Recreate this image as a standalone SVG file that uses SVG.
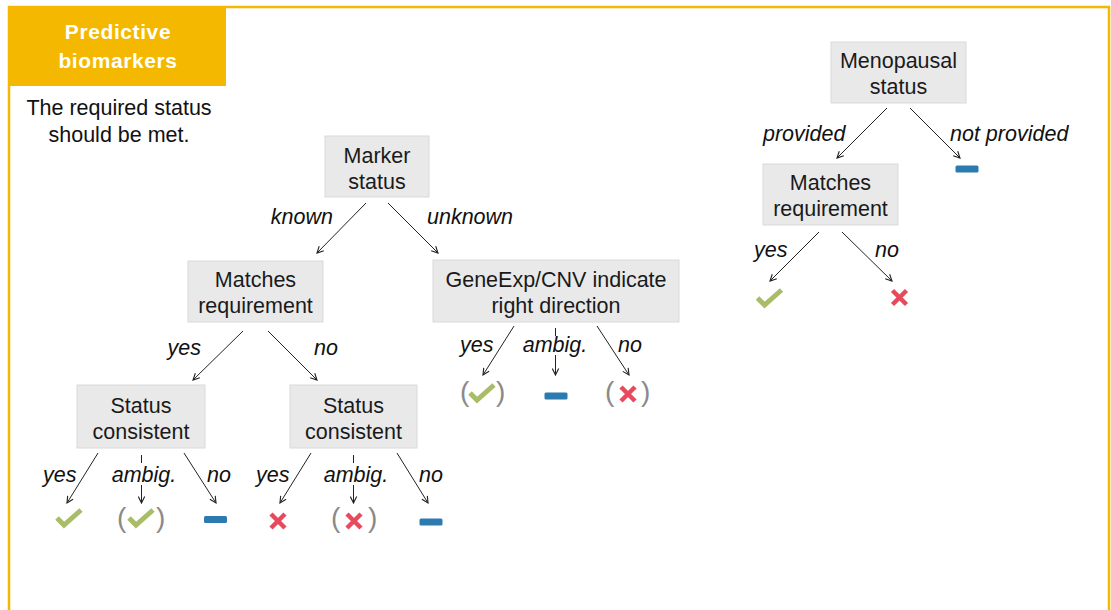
<svg xmlns="http://www.w3.org/2000/svg" width="1111" height="610" viewBox="0 0 1111 610">
  <style>
    .box rect { fill: #e9e9e9; stroke: #d9d9d9; stroke-width: 1; }
    .box text { font-family: "Liberation Sans", Arial, sans-serif; font-size: 21.5px; fill: #1a1a1a; text-anchor: middle; }
    .lbl { font-family: "Liberation Sans", Arial, sans-serif; font-size: 21.5px; font-style: italic; fill: #111; }
    .edge { stroke: #222; stroke-width: 1; fill: none; }
    .arrow { marker-end: url(#head); }
    .check { stroke: #a9bc68; stroke-width: 5; fill: none; stroke-linejoin: miter; }
    .cross { stroke: #e64a5c; stroke-width: 4.5; fill: none; }
    .minus { fill: #2b7ab0; }
    .paren { font-family: "Liberation Sans", Arial, sans-serif; font-size: 28px; fill: #8a8a8a; }
  </style>
  <defs>
    <marker id="head" viewBox="0 0 10 10" refX="9" refY="5" markerWidth="8" markerHeight="8" markerUnits="userSpaceOnUse" orient="auto">
      <path d="M1,1 L9,5 L1,9" fill="none" stroke="#222" stroke-width="1.4"/>
    </marker>
    <g id="ok"><polyline class="check" points="-12,0 -5,7 12,-8"/></g>
    <g id="bad"><path class="cross" d="M-7,-7 L7,7 M7,-7 L-7,7"/></g>
    <g id="none"><rect class="minus" x="-11.5" y="-3.5" width="23" height="7" rx="1.5"/></g>
  </defs>

  <!-- panel frame -->
  <rect x="9" y="7" width="1100" height="700" fill="#fff" stroke="#f5b800" stroke-width="2.5"/>

  <!-- panel heading -->
  <g id="heading">
    <rect x="8" y="6" width="218" height="80" fill="#f5b800"/>
    <text x="118" y="39" font-family="Liberation Sans, Arial, sans-serif" font-size="21" font-weight="bold" letter-spacing="0.6" fill="#fff" text-anchor="middle">Predictive</text>
    <text x="118" y="68" font-family="Liberation Sans, Arial, sans-serif" font-size="21" font-weight="bold" letter-spacing="0.6" fill="#fff" text-anchor="middle">biomarkers</text>
  </g>
  <g id="note">
    <text x="119" y="115" font-family="Liberation Sans, Arial, sans-serif" font-size="21.5" fill="#111" text-anchor="middle">The required status</text>
    <text x="119" y="142" font-family="Liberation Sans, Arial, sans-serif" font-size="21.5" fill="#111" text-anchor="middle">should be met.</text>
  </g>

  <!-- decision nodes -->
  <g id="marker-status" class="box">
    <rect x="325" y="136" width="104" height="61"/>
    <text x="377" y="163">Marker</text>
    <text x="377" y="189">status</text>
  </g>
  <g id="matches-left" class="box">
    <rect x="188" y="261" width="135" height="61"/>
    <text x="255.5" y="287">Matches</text>
    <text x="255.5" y="313">requirement</text>
  </g>
  <g id="geneexp" class="box">
    <rect x="433" y="260" width="246" height="62"/>
    <text x="556" y="287">GeneExp/CNV indicate</text>
    <text x="556" y="313">right direction</text>
  </g>
  <g id="status-left" class="box">
    <rect x="77" y="385" width="128" height="63"/>
    <text x="141" y="413">Status</text>
    <text x="141" y="439">consistent</text>
  </g>
  <g id="status-right" class="box">
    <rect x="290" y="385" width="127" height="63"/>
    <text x="353.5" y="413">Status</text>
    <text x="353.5" y="439">consistent</text>
  </g>
  <g id="menopausal" class="box">
    <rect x="831" y="42" width="135" height="61"/>
    <text x="898.5" y="68">Menopausal</text>
    <text x="898.5" y="94">status</text>
  </g>
  <g id="matches-right" class="box">
    <rect x="763" y="164" width="135" height="61"/>
    <text x="830.5" y="190">Matches</text>
    <text x="830.5" y="216">requirement</text>
  </g>

  <!-- connectors -->
  <g id="connectors">
    <line class="edge arrow" x1="366" y1="203" x2="317" y2="253"/>
    <line class="edge arrow" x1="388" y1="203" x2="438" y2="253"/>
    <line class="edge arrow" x1="243" y1="331" x2="193" y2="380"/>
    <line class="edge arrow" x1="268" y1="331" x2="317" y2="380"/>

    <line class="edge arrow" x1="98" y1="453" x2="67" y2="503"/>
    <line class="edge" x1="141.5" y1="455" x2="141.5" y2="463"/>
    <line class="edge arrow" x1="141.5" y1="485" x2="141.5" y2="503"/>
    <line class="edge arrow" x1="184" y1="453" x2="216" y2="503"/>

    <line class="edge arrow" x1="311" y1="453" x2="280" y2="503"/>
    <line class="edge" x1="353.5" y1="455" x2="353.5" y2="463"/>
    <line class="edge arrow" x1="353.5" y1="485" x2="353.5" y2="503"/>
    <line class="edge arrow" x1="397" y1="453" x2="428" y2="503"/>

    <line class="edge arrow" x1="514" y1="326" x2="483" y2="375"/>
    <line class="edge" x1="555.5" y1="328" x2="555.5" y2="336"/>
    <line class="edge arrow" x1="555.5" y1="355" x2="555.5" y2="375"/>
    <line class="edge arrow" x1="597" y1="326" x2="629" y2="375"/>

    <line class="edge arrow" x1="887" y1="108" x2="837" y2="158"/>
    <line class="edge arrow" x1="910" y1="108" x2="960" y2="158"/>
    <line class="edge arrow" x1="819" y1="232" x2="770" y2="281"/>
    <line class="edge arrow" x1="842" y1="232" x2="892" y2="281"/>
  </g>

  <!-- connector labels -->
  <g id="labels">
    <text class="lbl" x="333" y="224" text-anchor="end">known</text>
    <text class="lbl" x="427" y="224">unknown</text>
    <text class="lbl" x="201" y="355" text-anchor="end">yes</text>
    <text class="lbl" x="314" y="355">no</text>

    <text class="lbl" x="43" y="482">yes</text>
    <text class="lbl" x="144" y="482" text-anchor="middle">ambig.</text>
    <text class="lbl" x="207" y="482">no</text>

    <text class="lbl" x="256" y="482">yes</text>
    <text class="lbl" x="356" y="482" text-anchor="middle">ambig.</text>
    <text class="lbl" x="419" y="482">no</text>

    <text class="lbl" x="460" y="352">yes</text>
    <text class="lbl" x="555" y="352" text-anchor="middle">ambig.</text>
    <text class="lbl" x="618" y="352">no</text>

    <text class="lbl" x="763" y="141">provided</text>
    <text class="lbl" x="950" y="141">not provided</text>
    <text class="lbl" x="754" y="257">yes</text>
    <text class="lbl" x="875" y="257">no</text>
  </g>

  <!-- outcome icons -->
  <g id="outcomes">
    <use href="#ok" x="69" y="518"/>
    <text class="paren" x="117" y="527">(</text>
    <use href="#ok" x="141" y="518"/>
    <text class="paren" x="156" y="527">)</text>
    <use href="#none" x="215.5" y="519.5"/>

    <use href="#bad" x="278" y="521"/>
    <text class="paren" x="331" y="527">(</text>
    <use href="#bad" x="354" y="521"/>
    <text class="paren" x="368" y="527">)</text>
    <use href="#none" x="431" y="522"/>

    <text class="paren" x="460" y="401">(</text>
    <use href="#ok" x="482" y="393"/>
    <text class="paren" x="496" y="401">)</text>
    <use href="#none" x="556" y="396"/>
    <text class="paren" x="605" y="401">(</text>
    <use href="#bad" x="628" y="394"/>
    <text class="paren" x="641" y="401">)</text>

    <use href="#none" x="967" y="169"/>
    <use href="#ok" x="769.5" y="298"/>
    <use href="#bad" x="899.5" y="297.5"/>
  </g>
</svg>
